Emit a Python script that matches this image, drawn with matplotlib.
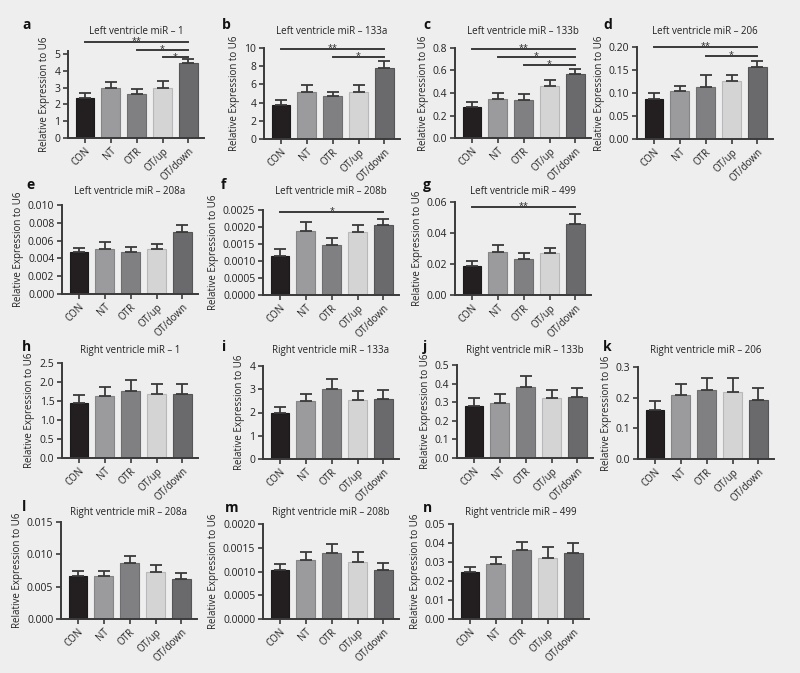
import matplotlib
matplotlib.use("Agg")
import matplotlib.pyplot as plt
import numpy as np

plt.rcParams['font.family'] = ['Open Sans', 'DejaVu Sans']

groups = ["CON", "NT", "OTR", "OT/up", "OT/down"]
colors = ["#231f20", "#9b9b9d", "#808082", "#d4d4d5", "#6a6a6c"]

# values (means) and error (SEM) per panel
a_mean = [2.4, 3.0, 2.6, 2.95, 4.45];          a_err = [0.3, 0.35, 0.3, 0.45, 0.25]
b_mean = [3.7, 5.2, 4.75, 5.15, 7.85];         b_err = [0.6, 0.7, 0.45, 0.8, 0.75]
c_mean = [0.28, 0.35, 0.34, 0.46, 0.565];      c_err = [0.04, 0.05, 0.05, 0.06, 0.045]
d_mean = [0.087, 0.104, 0.112, 0.127, 0.157];  d_err = [0.012, 0.012, 0.028, 0.012, 0.012]
e_mean = [0.0047, 0.0051, 0.0047, 0.0051, 0.0070]; e_err = [0.0005, 0.0007, 0.0006, 0.0005, 0.0008]
f_mean = [0.00115, 0.00188, 0.00147, 0.00186, 0.00205]; f_err = [0.0002, 0.00026, 0.00022, 0.0002, 0.0002]
g_mean = [0.019, 0.028, 0.0235, 0.0268, 0.046]; g_err = [0.003, 0.004, 0.0035, 0.0035, 0.006]
h_mean = [1.45, 1.63, 1.77, 1.69, 1.69];       h_err = [0.2, 0.25, 0.27, 0.27, 0.27]
i_mean = [1.97, 2.48, 3.03, 2.55, 2.6];        i_err = [0.27, 0.32, 0.43, 0.38, 0.38]
j_mean = [0.28, 0.295, 0.38, 0.32, 0.33];      j_err = [0.045, 0.05, 0.06, 0.045, 0.045]
k_mean = [0.16, 0.209, 0.225, 0.22, 0.192];    k_err = [0.028, 0.037, 0.04, 0.045, 0.038]
l_mean = [0.0066, 0.0066, 0.0086, 0.0072, 0.0062]; l_err = [0.0009, 0.0009, 0.0012, 0.0011, 0.0009]
m_mean = [0.00103, 0.00125, 0.00138, 0.00121, 0.00103]; m_err = [0.00013, 0.00017, 0.0002, 0.0002, 0.00014]
n_mean = [0.0248, 0.0292, 0.0362, 0.032, 0.0345]; n_err = [0.0027, 0.0035, 0.0045, 0.006, 0.0055]

titles = {
    'a': "Left ventricle miR – 1", 'b': "Left ventricle miR – 133a", 'c': "Left ventricle miR – 133b",
    'd': "Left ventricle miR – 206", 'e': "Left ventricle miR – 208a", 'f': "Left ventricle miR – 208b",
    'g': "Left ventricle miR – 499", 'h': "Right ventricle miR – 1", 'i': "Right ventricle miR – 133a",
    'j': "Right ventricle miR – 133b", 'k': "Right ventricle miR – 206", 'l': "Right ventricle miR – 208a",
    'm': "Right ventricle miR – 208b", 'n': "Right ventricle miR – 499",
}

# significance: (from group, to group, y value, label)
sig = {
    'a': [(0, 4, 5.7, "**"), (2, 4, 5.25, "*"), (3, 4, 4.8, "*")],
    'b': [(0, 4, 9.9, "**"), (2, 4, 9.0, "*")],
    'c': [(0, 4, 0.79, "**"), (1, 4, 0.72, "*"), (2, 4, 0.65, "*")],
    'd': [(0, 4, 0.201, "**"), (2, 4, 0.18, "*")],
    'f': [(0, 4, 0.00245, "*")],
    'g': [(0, 4, 0.057, "**")],
}

W, H = 800, 673
fig = plt.figure(figsize=(W / 100, H / 100), dpi=100, facecolor="#eeeeee")

# (letter, left_px, y0_px, ytop_px, ytickmax, ticks, fmt, data, err, letter pos, title y, ylim top)
panels = [
    ('a', 68, 138, 54, 5, np.arange(0, 5.01, 1), "{:.0f}", a_mean, a_err, (22, 25), 31, 5.2),
    ('b', 264, 139, 48, 10, np.arange(0, 10.01, 2), "{:.0f}", b_mean, b_err, (222, 25), 31, 10),
    ('c', 455, 138, 48, 0.8, np.arange(0, 0.801, 0.2), "{:.1f}", c_mean, c_err, (423, 25), 31, 0.8),
    ('d', 637, 139, 47, 0.2, np.arange(0, 0.2001, 0.05), "{:.2f}", d_mean, d_err, (603, 25), 31, 0.2),
    ('e', 62, 294, 205, 0.010, np.arange(0, 0.01001, 0.002), "{:.3f}", e_mean, e_err, (26, 185), 192, 0.010),
    ('f', 263, 295, 210, 0.0025, np.arange(0, 0.002501, 0.0005), "{:.4f}", f_mean, f_err, (221, 185), 192, 0.0025),
    ('g', 455, 295, 202, 0.06, np.arange(0, 0.0601, 0.02), "{:.2f}", g_mean, g_err, (423, 185), 192, 0.06),
    ('h', 62, 458, 363, 2.5, np.arange(0, 2.501, 0.5), "{:.1f}", h_mean, h_err, (22, 347), 350, 2.5),
    ('i', 263, 459, 366, 4, np.arange(0, 4.01, 1), "{:.0f}", i_mean, i_err, (222, 347), 350, 4),
    ('j', 457, 458, 365, 0.5, np.arange(0, 0.501, 0.1), "{:.1f}", j_mean, j_err, (423, 347), 350, 0.5),
    ('k', 638, 459, 367, 0.3, np.arange(0, 0.301, 0.1), "{:.1f}", k_mean, k_err, (603, 347), 350, 0.3),
    ('l', 61, 619, 522, 0.015, np.arange(0, 0.01501, 0.005), "{:.3f}", l_mean, l_err, (22, 507), 513, 0.015),
    ('m', 263, 619, 524, 0.002, np.arange(0, 0.002001, 0.0005), "{:.4f}", m_mean, m_err, (225, 508), 513, 0.002),
    ('n', 453, 619, 524, 0.05, np.arange(0, 0.05001, 0.01), "{:.2f}", n_mean, n_err, (423, 508), 513, 0.05),
]

axcol = "#3a3a3a"
x = np.arange(len(groups))
for (let, left, y0, ytop, ytickmax, ticks, fmt, means, errs, lpos, ty, ylimtop) in panels:
    pxunit = (y0 - ytop) / ytickmax
    top_px = y0 - ylimtop * pxunit
    width_px = 136
    ax = fig.add_axes([left / W, 1 - y0 / H, width_px / W, (y0 - top_px) / H])
    ax.set_facecolor("none")
    ax.bar(x, means, width=0.72, color=colors, edgecolor=["#1a1a1a", "#858587", "#6e6e70", "#b8b8ba", "#555557"],
           linewidth=0.8, zorder=2)
    ax.errorbar(x, means, yerr=[np.zeros(5), errs], fmt='none', ecolor=axcol, elinewidth=1.3,
                capsize=4.5, capthick=1.3, zorder=3)
    ax.set_xlim(-0.65, 4.6)
    ax.set_ylim(0, ylimtop)
    ax.set_yticks(ticks)
    ax.set_yticklabels([fmt.format(t) for t in ticks], fontsize=7.5, color="#222222")
    ax.set_xticks(x)
    ax.set_xticklabels(groups, rotation=45, ha='right', rotation_mode='anchor', fontsize=7, color="#222222")
    for s in ['top', 'right']:
        ax.spines[s].set_visible(False)
    for s in ['left', 'bottom']:
        ax.spines[s].set_color(axcol)
        ax.spines[s].set_linewidth(1.4)
    ax.tick_params(axis='both', colors=axcol, length=3.5, width=1.2, pad=2)
    ax.tick_params(axis='x', labelcolor="#222222")
    ax.tick_params(axis='y', labelcolor="#222222")
    ax.set_ylabel("Relative Expression to U6", fontsize=7, color="#222222", labelpad=3)
    fig.text((left + width_px / 2) / W, 1 - ty / H, titles[let], ha='center', va='center',
             fontsize=7, color="#222222")
    fig.text(lpos[0] / W, 1 - lpos[1] / H, let, ha='left', va='center', fontsize=10,
             fontweight='bold', color="#111111")
    for (g1, g2, yv, lab) in sig.get(let, []):
        ax.plot([x[g1], x[g2]], [yv, yv], color=axcol, lw=1.4, clip_on=False, zorder=4)
        ax.annotate(lab, xy=((x[g1] + x[g2]) / 2, yv), xytext=(0, -1.5), textcoords='offset points',
                    ha='center', va='baseline', fontsize=6.5, color="#222222", annotation_clip=False)

fig.savefig("out.png", dpi=100, facecolor=fig.get_facecolor())
